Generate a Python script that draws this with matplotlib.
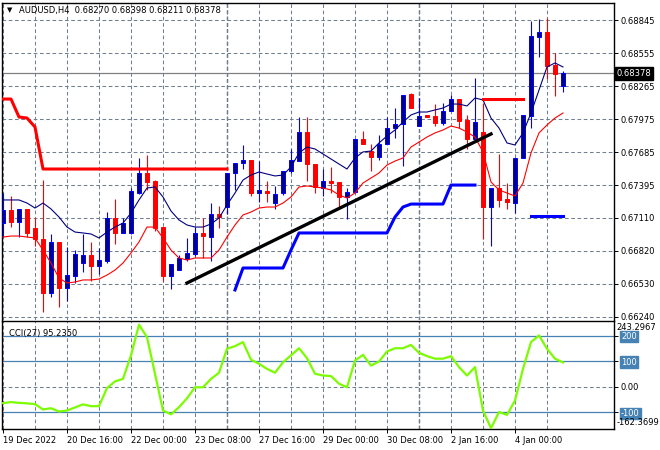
import numpy as np
import matplotlib
matplotlib.use('Agg')
import matplotlib.pyplot as plt
from matplotlib.ticker import FixedLocator

# AUDUSD H4 candles, first bar 19 Dec 2022 08:00
opens = [0.67064, 0.67178, 0.67073, 0.67187, 0.67020, 0.66923, 0.66449, 0.66897, 0.66493, 0.66598,
         0.66713, 0.66783, 0.66686, 0.66730, 0.67108, 0.66976, 0.66976, 0.67327, 0.67503, 0.67432,
         0.67029, 0.66598, 0.66651, 0.66748, 0.66791, 0.66976, 0.66941, 0.67143, 0.67204, 0.67503,
         0.67591, 0.67617, 0.67327, 0.67345, 0.67239, 0.67327, 0.67520, 0.67608, 0.67863, 0.67582,
         0.67371, 0.67432, 0.67424, 0.67292, 0.67336, 0.67802, 0.67696, 0.67644, 0.67758, 0.67898,
         0.67934, 0.68197, 0.67916, 0.68013, 0.68004, 0.67943, 0.68048, 0.68153, 0.67969, 0.67802,
         0.67863, 0.67204, 0.67371, 0.67275, 0.67239, 0.67635, 0.68004, 0.68698, 0.68742, 0.68452,
         0.68270]
highs = [0.67327, 0.67301, 0.67187, 0.67187, 0.67108, 0.67441, 0.66967, 0.66897, 0.66853, 0.66827,
         0.66967, 0.66897, 0.66844, 0.67160, 0.67275, 0.67108, 0.67371, 0.67635, 0.67661, 0.67441,
         0.67029, 0.66704, 0.66783, 0.66932, 0.67029, 0.67108, 0.67239, 0.67213, 0.67503, 0.67591,
         0.67749, 0.67617, 0.67608, 0.67432, 0.67389, 0.67520, 0.67714, 0.67995, 0.67995, 0.67582,
         0.67538, 0.67556, 0.67424, 0.67371, 0.67802, 0.67872, 0.67758, 0.67837, 0.67995, 0.68074,
         0.68188, 0.68206, 0.68162, 0.68013, 0.68109, 0.68118, 0.68188, 0.68153, 0.68013, 0.68338,
         0.68118, 0.67371, 0.67670, 0.67415, 0.67635, 0.68013, 0.68839, 0.68856, 0.68865, 0.68558,
         0.68398]
lows = [0.66941, 0.67029, 0.66941, 0.66941, 0.66862, 0.66282, 0.66414, 0.66326, 0.66379, 0.66537,
        0.66634, 0.66555, 0.66616, 0.66713, 0.66879, 0.66976, 0.66967, 0.67318, 0.67354, 0.66994,
        0.66555, 0.66484, 0.66651, 0.66730, 0.66774, 0.66756, 0.66730, 0.67020, 0.67143, 0.67354,
        0.67538, 0.67301, 0.67248, 0.67248, 0.67187, 0.67310, 0.67503, 0.67608, 0.67432, 0.67327,
        0.67301, 0.67327, 0.67204, 0.67099, 0.67327, 0.67758, 0.67520, 0.67617, 0.67758, 0.67811,
        0.67564, 0.68074, 0.67916, 0.67995, 0.67916, 0.67925, 0.68048, 0.67898, 0.67714, 0.67802,
        0.66923, 0.66862, 0.67204, 0.67187, 0.67152, 0.67635, 0.67898, 0.68522, 0.68329, 0.68180,
        0.68211]
closes = [0.67178, 0.67073, 0.67187, 0.66976, 0.66923, 0.66449, 0.66897, 0.66493, 0.66607, 0.66791,
          0.66783, 0.66686, 0.66739, 0.67108, 0.66976, 0.67064, 0.67345, 0.67503, 0.67424, 0.67020,
          0.66598, 0.66704, 0.66756, 0.66800, 0.66976, 0.66950, 0.67143, 0.67117, 0.67503, 0.67591,
          0.67617, 0.67327, 0.67354, 0.67327, 0.67318, 0.67520, 0.67617, 0.67863, 0.67582, 0.67380,
          0.67432, 0.67415, 0.67292, 0.67336, 0.67802, 0.67758, 0.67644, 0.67758, 0.67898, 0.67934,
          0.68188, 0.68074, 0.68004, 0.67995, 0.67943, 0.68048, 0.68153, 0.67960, 0.67802, 0.67951,
          0.67204, 0.67371, 0.67266, 0.67248, 0.67635, 0.68013, 0.68707, 0.68742, 0.68443, 0.68373,
          0.68378]

# navy (fast) and red (slow) averages
ma_fast = [0.67266, 0.67266, 0.67266, 0.67239, 0.67195, 0.67239, 0.67187, 0.67116, 0.67028, 0.66984,
           0.66976, 0.66967, 0.66932, 0.66984, 0.67028, 0.67063, 0.67151, 0.67266, 0.67371, 0.67380,
           0.67292, 0.67169, 0.67090, 0.67046, 0.67028, 0.67028, 0.67055, 0.67107, 0.67222, 0.67327,
           0.67441, 0.67485, 0.67512, 0.67494, 0.67477, 0.67485, 0.67556, 0.67679, 0.67731, 0.67714,
           0.67670, 0.67626, 0.67582, 0.67538, 0.67635, 0.67688, 0.67696, 0.67767, 0.67828, 0.67881,
           0.67951, 0.68013, 0.68039, 0.68039, 0.68057, 0.68074, 0.68109, 0.68109, 0.68092, 0.68162,
           0.68145, 0.67986, 0.67898, 0.67767, 0.67749, 0.67855, 0.68030, 0.68232, 0.68435, 0.68470,
           0.68435]
ma_slow = [0.66940, 0.66949, 0.66949, 0.66940, 0.66932, 0.66826, 0.66712, 0.66580, 0.66536, 0.66545,
           0.66563, 0.66563, 0.66571, 0.66606, 0.66650, 0.66712, 0.66800, 0.66897, 0.67028, 0.67028,
           0.66932, 0.66826, 0.66756, 0.66738, 0.66756, 0.66756, 0.66756, 0.66826, 0.66940, 0.67046,
           0.67134, 0.67160, 0.67195, 0.67204, 0.67204, 0.67239, 0.67292, 0.67380, 0.67389, 0.67380,
           0.67371, 0.67354, 0.67310, 0.67283, 0.67327, 0.67415, 0.67459, 0.67503, 0.67573, 0.67608,
           0.67635, 0.67731, 0.67775, 0.67819, 0.67855, 0.67881, 0.67916, 0.67898, 0.67863, 0.67819,
           0.67688, 0.67424, 0.67354, 0.67327, 0.67301, 0.67415, 0.67679, 0.67855, 0.67925, 0.67986,
           0.68030]

# resistance / support step lines (bar index, price)
res1_x = [0, 1, 2, 3, 4, 5, 28]
res1_y = [0.68153, 0.68153, 0.67995, 0.67986, 0.67907, 0.67538, 0.67538]
res2_x = [60, 65]
res2_y = [0.68153, 0.68153]
sup1_x = [29, 30, 35, 36, 37, 48, 49, 50, 51, 55, 56, 59]
sup1_y = [0.66475, 0.66668, 0.66668, 0.66826, 0.66976, 0.66976, 0.67116, 0.67204, 0.67230,
          0.67230, 0.67397, 0.67397]
sup2_x = [66, 70]
sup2_y = [0.67125, 0.67125]

# trend line
trend_x = [23, 61]
trend_y = [0.66536, 0.67846]

cci = [-64, -60, -63, -65, -68, -89, -84, -97, -93, -81,
       -69, -76, -76, -5, 21, 31, 123, 243.2967, 194, 51,
       -93, -108, -80, -45, -2, -2, 31, 55, 149, 159,
       175, 106, 90, 70, 55, 96, 123, 151, 112, 51,
       44, 42, 12, -2, 103, 125, 83, 99, 138, 151,
       151, 164, 133, 120, 110, 110, 120, 77, 44, 77,
       -93, -162.3699, -99, -110, -54, 70, 175, 201, 149, 110,
       95.2350]

separators = [28, 52]
price_ticks = [0.68845, 0.68555, 0.68265, 0.67975, 0.67685, 0.67395, 0.67110, 0.66820, 0.66530, 0.66240]
price_labels = ['0.68845', '0.68555', '0.68265', '0.67975', '0.67685', '0.67395', '0.67110',
                '0.66820', '0.66530', '0.66240']
date_ticks = [0, 8, 16, 24, 32, 40, 48, 56, 64]
date_labels = ['19 Dec 2022', '20 Dec 16:00', '22 Dec 00:00', '23 Dec 08:00', '27 Dec 16:00',
               '29 Dec 00:00', '30 Dec 08:00', '2 Jan 16:00', '4 Jan 00:00']
last_price = 0.68378

plt.rcParams['font.family'] = ['DejaVu Sans']
FS = 6.0
W, H = 660, 450
GRID = dict(color='#708090', ls=(0, (3.5, 2.5)), lw=0.75)

fig = plt.figure(figsize=(W / 100, H / 100), dpi=100)
ax = fig.add_axes([2 / W, 1 - 320 / H, 612 / W, 317 / H])
axc = fig.add_axes([2 / W, 1 - 429 / H, 612 / W, 108 / H])

x = np.arange(len(opens))
o, h, l, c = (np.array(v) for v in (opens, highs, lows, closes))
up = c >= o
lo = np.minimum(o, c)
hgt = np.maximum(np.abs(c - o), 0.00002)

for a in (ax, axc):
    a.set_xlim(-0.125, 76.375)
    a.xaxis.set_major_locator(FixedLocator(date_ticks))
    a.xaxis.set_minor_locator(FixedLocator(np.arange(4, 76, 8)))
    a.grid(True, axis='x', which='both', **GRID)
    for s in separators:
        a.axvline(s, color='black', ls=(0, (3, 2)), lw=0.9, zorder=1)
    a.yaxis.tick_right()
    a.tick_params(axis='y', length=3, width=0.7, labelsize=FS, pad=2)
    a.tick_params(axis='x', which='minor', length=0)
    for sp in a.spines.values():
        sp.set_linewidth(1.0)

# price panel
ax.set_ylim(0.66211, 0.68997)
ax.set_yticks(price_ticks)
ax.set_yticklabels(price_labels)
ax.grid(True, axis='y', **GRID)
ax.tick_params(axis='x', length=0, labelbottom=False)
ax.spines['bottom'].set_visible(False)
ax.axhline(last_price, color='#808080', lw=0.9, zorder=1)

ax.vlines(x[up], l[up], h[up], color='#0000FF', lw=0.8, zorder=3)
ax.vlines(x[~up], l[~up], h[~up], color='#FF0000', lw=0.8, zorder=3)
ax.bar(x[up], hgt[up], bottom=lo[up], width=0.6, color='#00008B', edgecolor='#0000FF',
       lw=0.7, zorder=4)
ax.bar(x[~up], hgt[~up], bottom=lo[~up], width=0.6, color='#FF0000', edgecolor='#FF0000',
       lw=0.7, zorder=4)

ax.plot(x, ma_fast, color='#000080', lw=0.8, zorder=5)
ax.plot(x, ma_slow, color='#FF0000', lw=0.8, zorder=5)
ax.plot(res1_x, res1_y, color='#FF0000', lw=2.2, zorder=5)
ax.plot(res2_x, res2_y, color='#FF0000', lw=2.2, zorder=5)
ax.plot(sup1_x, sup1_y, color='#0000FF', lw=2.2, zorder=5)
ax.plot(sup2_x, sup2_y, color='#0000FF', lw=2.2, zorder=5)
ax.plot(trend_x, trend_y, color='black', lw=2.4, zorder=6)

ax.text(1.004, last_price, '%.5f' % last_price, transform=ax.get_yaxis_transform(),
        ha='left', va='center', fontsize=FS, color='white', clip_on=False,
        bbox=dict(boxstyle='square,pad=0.2', fc='black', ec='black'))

fig.text(7 / W, 1 - 10.5 / H, '\u25bc', fontsize=5, ha='left', va='center')
fig.text(19 / W, 1 - 10.5 / H, 'AUDUSD,H4  %.5f %.5f %.5f %.5f' % (opens[-1], highs[-1], lows[-1], closes[-1]),
         fontsize=FS, ha='left', va='center')

# CCI panel
axc.set_ylim(-165.4, 257.6)
for lev in (200, 100, -100):
    axc.axhline(lev, color='#4682B4', lw=0.9, zorder=1)
axc.axhline(0, **GRID)
axc.plot(x, cci, color='#7CFC00', lw=1.6, zorder=4)
axc.set_yticks([200, 100, 0, -100])
axc.set_yticklabels(['200', '100', '0.00', '-100'])
for lbl in axc.get_yticklabels():
    if lbl.get_text() != '0.00':
        lbl.set_color('white')
        lbl.set_bbox(dict(boxstyle='square,pad=0.15', fc='#4682B4', ec='#4682B4'))
axc.text(1.004, 0.985, '%.4f' % max(cci), transform=axc.transAxes, ha='left', va='top',
         fontsize=FS)
axc.text(1.004, 0.015, '%.4f' % min(cci), transform=axc.transAxes, ha='left', va='bottom',
         fontsize=FS)
axc.text(7 / 612, 0.93, 'CCI(27) %.4f' % cci[-1], transform=axc.transAxes, ha='left',
         va='top', fontsize=FS)

axc.set_xticklabels(date_labels)
axc.tick_params(axis='x', which='major', length=3, width=0.7, labelsize=FS, pad=2)
for lbl in axc.get_xticklabels():
    lbl.set_ha('left')

fig.savefig('out.png', dpi=100)
